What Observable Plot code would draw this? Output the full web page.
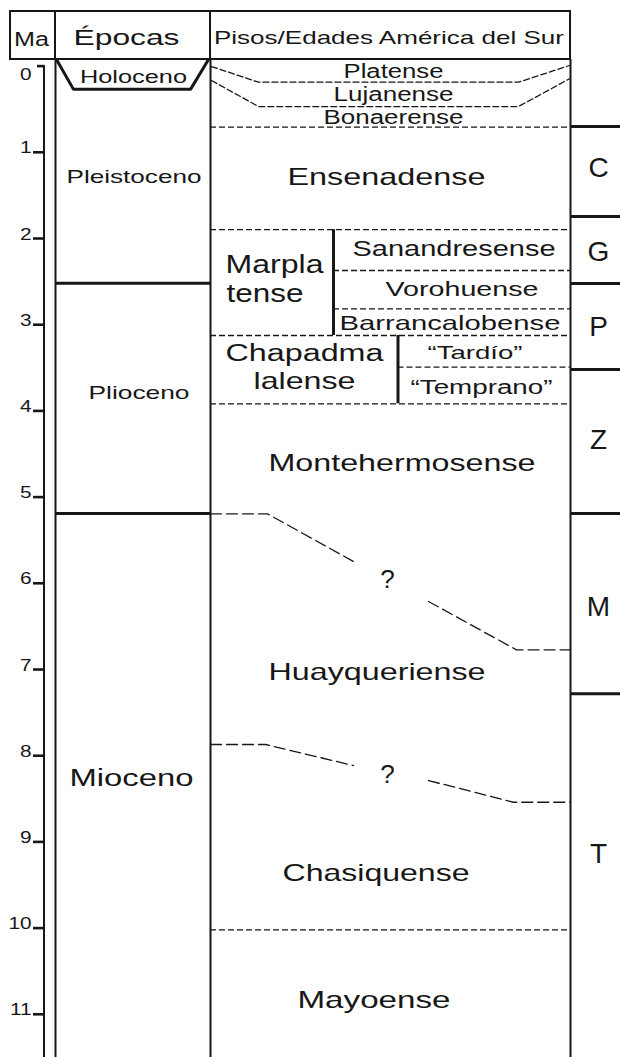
<!DOCTYPE html>
<html><head><meta charset="utf-8">
<script src="https://cdn.jsdelivr.net/npm/d3@7"></script>
<script src="https://cdn.jsdelivr.net/npm/@observablehq/plot@0.6"></script>
<style>
body{margin:0;background:#fff;}
#wrap{position:relative;width:620px;height:1057px;overflow:hidden;font-family:"Liberation Sans",Arial,sans-serif;color:#171717;background:#fff;}
#chart{position:absolute;left:0;top:59px;}
#hdr{position:absolute;left:0;top:0;width:620px;height:60px;z-index:2;}
.ln{position:absolute;background:#171717;}
.hl{position:absolute;text-align:center;white-space:nowrap;}
.hl span{display:inline-block;transform-origin:50% 50%;}
</style></head>
<body><div id="wrap"><div id="chart"></div><div id="hdr"></div></div>
<script>
// ---------------- DATA (ages in Ma) ----------------
const headerLabels = ["Ma", "Épocas", "Pisos/Edades América del Sur"];
const maTicks = [0, 1, 2, 3, 4, 5, 6, 7, 8, 9, 10, 11];

const epochNames = ["Holoceno", "Pleistoceno", "Plioceno", "Mioceno"];
const epochLabelMa = [0.132, 1.292, 3.798, 8.265];
const epochBoundaryMa = [2.52, 5.19];
const holoceneBaseMa = 0.27;

const stageNames = ["Platense", "Lujanense", "Bonaerense", "Ensenadense", "Marpla", "tense",
  "Sanandresense", "Vorohuense", "Barrancalobense", "Chapadma", "lalense", "“Tardío”", "“Temprano”",
  "Montehermosense", "Huayqueriense", "Chasiquense", "Mayoense"];
const stageLabelMa = [0.063, 0.328, 0.596, 1.292, 2.309, 2.643, 2.116, 2.585, 2.980, 3.338, 3.657,
  3.328, 3.729, 4.610, 7.035, 9.365, 10.84];
const stageBoundaryMa = [0.709, 1.897, 3.125, 3.918, 10.02];
const marplaSubBoundaryMa = [2.371, 2.816];
const chapaSubBoundaryMa = [3.493];
const marplaSpanMa = [1.897, 3.125];
const chapaSpanMa = [3.125, 3.918];
const platenseBaseMa = [0.005, 0.187, 0.187, -0.007];
const lujanenseBaseMa = [0.167, 0.469, 0.469, 0.147];
const huayqTopMa = [[5.194, 5.194, 5.747], [6.211, 6.772, 6.772]];
const chasiqTopMa = [[7.870, 7.870, 8.114], [8.288, 8.540, 8.540]];
const uncertainText = ["?", "?"];
const uncertainMa = [5.957, 8.218];

const zoneNames = ["C", "G", "P", "Z", "M", "T"];
const zoneBoundaryMa = [0.701, 1.745, 2.522, 3.520, 5.191, 7.280];
const zoneLabelMa = [1.179, 2.162, 3.032, 4.343, 6.28, 9.135];

// ---------------- LAYOUT ----------------
const INK = "#171717";
const W = 620, H = 998, TOP = 59;
const PX_PER_MA = 86.2, MA0_Y = 65.6;
const yMin = (TOP - MA0_Y) / PX_PER_MA, yMax = (TOP + H - MA0_Y) / PX_PER_MA;
const X = {axis: 43.5, tick0: 37, tick: 33, lab: 31, epL: 55, epR: 210, psR: 570, zR: 620,
  marplaDiv: 333, chapaDiv: 397.5, zoneLab: 598, uncertain: 387};
const holoX = [56, 73, 190, 208];
const platenseX = [211, 258, 518, 569];
const huayqX = [[210, 267, 353], [428, 516, 570]];
const chasiqX = [[210, 265, 353], [428, 513, 570]];
const epochLayout = {Holoceno: {x: 133, w: 107, fs: 18}, Pleistoceno: {x: 133.5, w: 135, fs: 18.5},
  Plioceno: {x: 138.5, w: 101, fs: 18.5}, Mioceno: {x: 131, w: 124, fs: 23}};
const stageLayout = {
  Platense: {x: 393, w: 100, fs: 20}, Lujanense: {x: 393, w: 120, fs: 20}, Bonaerense: {x: 393, w: 140, fs: 20},
  Ensenadense: {x: 386, w: 198, fs: 24},
  Marpla: {x: 225, w: 98, fs: 26, start: true}, tense: {x: 226, w: 77, fs: 26, start: true},
  Sanandresense: {x: 453.5, w: 203, fs: 22}, Vorohuense: {x: 461.5, w: 153, fs: 21},
  Barrancalobense: {x: 449.5, w: 221, fs: 21}, Chapadma: {x: 304, w: 158, fs: 23}, lalense: {x: 304, w: 102, fs: 24},
  "“Tardío”": {x: 474.5, w: 95, fs: 19}, "“Temprano”": {x: 481, w: 142, fs: 19.5},
  Montehermosense: {x: 401.5, w: 267, fs: 24}, Huayqueriense: {x: 376.5, w: 217, fs: 24},
  Chasiquense: {x: 375.5, w: 187, fs: 24}, Mayoense: {x: 373.5, w: 153, fs: 24}
};
const hdrLayout = [{x: 31.5, w: 35, fs: 19.5, y: 38.5}, {x: 127, w: 106, fs: 22.5, y: 37.8}, {x: 388.5, w: 350, fs: 17.7, y: 38}];
const hdrLines = [[9, 10, 562, 2], [9, 58, 562, 2], [9, 10, 2, 50], [54, 10, 2, 50], [209, 10, 2, 50], [569, 10, 2, 50]];

// ---------------- TABLES built from data ----------------
const epochs = epochNames.map((n, i) => ({name: n, ma: epochLabelMa[i], ...epochLayout[n]}));
const stages = stageNames.map((n, i) => ({name: n, ma: stageLabelMa[i], ...stageLayout[n]}));
const holo = holoX.map((x, i) => ({x, y: (i === 0 || i === 3) ? yMin : holoceneBaseMa}));
const poly = [];
platenseBaseMa.forEach((m, i) => poly.push({g: "pla", x: platenseX[i], y: m}));
lujanenseBaseMa.forEach((m, i) => poly.push({g: "luj", x: platenseX[i], y: m}));
const poly2 = [];
huayqTopMa.forEach((seg, s) => seg.forEach((m, i) => poly2.push({g: "h" + s, x: huayqX[s][i], y: m})));
chasiqTopMa.forEach((seg, s) => seg.forEach((m, i) => poly2.push({g: "c" + s, x: chasiqX[s][i], y: m})));
const dividers = [{x: X.marplaDiv, y1: marplaSpanMa[0], y2: marplaSpanMa[1]}, {x: X.chapaDiv, y1: chapaSpanMa[0], y2: chapaSpanMa[1]}];
const zones = zoneNames.map((n, i) => ({name: n, ma: zoneLabelMa[i]}));
const unc = uncertainText.map((t, i) => ({t, ma: uncertainMa[i]}));

const dash = {stroke: INK, strokeWidth: 1.3, strokeDasharray: "6,3"};

const svg = Plot.plot({
  width: W, height: H, margin: 0,
  x: {domain: [0, W], range: [0, W], axis: null},
  y: {domain: [yMin, yMax], range: [0, H], axis: null},
  style: {fontFamily: "'Liberation Sans', Arial, sans-serif", background: "transparent", color: INK, overflow: "visible"},
  marks: [
    Plot.ruleX([X.epL, X.epR, X.psR], {x: d => d, y1: yMin, y2: yMax, stroke: INK, strokeWidth: 2}),
    Plot.ruleX([X.axis], {x: d => d, y1: maTicks[0], y2: yMax, stroke: INK, strokeWidth: 2}),
    Plot.ruleY(maTicks, {y: d => d, x1: d => d === 0 ? X.tick0 : X.tick, x2: X.axis + 1, stroke: INK, strokeWidth: 2.6}),
    Plot.text(maTicks.filter(d => d > 0), {x: X.lab, y: d => d, text: d => String(d), textAnchor: "end", lineAnchor: "bottom", fontSize: 16, dy: 1, fill: INK}),
    Plot.text(maTicks.filter(d => d === 0), {x: X.lab, y: d => d, text: d => String(d), textAnchor: "end", lineAnchor: "top", fontSize: 16, dy: 3, fill: INK}),
    Plot.ruleY(epochBoundaryMa, {y: d => d, x1: X.epL, x2: X.epR, stroke: INK, strokeWidth: 3}),
    Plot.line(holo, {x: "x", y: "y", stroke: INK, strokeWidth: 3, strokeLinejoin: "miter", curve: "linear"}),
    Plot.text(epochs, {x: "x", y: "ma", text: "name", fontSize: d => d.fs, fill: INK}),
    Plot.ruleY(stageBoundaryMa, {y: d => d, x1: X.epR, x2: X.psR, ...dash}),
    Plot.ruleY(marplaSubBoundaryMa, {y: d => d, x1: X.marplaDiv, x2: X.psR, ...dash}),
    Plot.ruleY(chapaSubBoundaryMa, {y: d => d, x1: X.chapaDiv, x2: X.psR, ...dash}),
    Plot.line(poly, {x: "x", y: "y", z: "g", curve: "linear", ...dash}),
    Plot.line(poly2, {x: "x", y: "y", z: "g", curve: "linear", stroke: INK, strokeWidth: 1.3, strokeDasharray: "11,5"}),
    Plot.ruleX(dividers, {x: "x", y1: "y1", y2: "y2", stroke: INK, strokeWidth: 3}),
    Plot.text(stages.filter(d => !d.start), {x: "x", y: "ma", text: "name", fontSize: d => d.fs, fill: INK}),
    Plot.text(stages.filter(d => d.start), {x: "x", y: "ma", text: "name", textAnchor: "start", fontSize: d => d.fs, fill: INK}),
    Plot.text(unc, {x: X.uncertain, y: "ma", text: "t", fontSize: 26, fill: INK}),
    Plot.ruleY(zoneBoundaryMa, {y: d => d, x1: X.psR, x2: X.zR, stroke: INK, strokeWidth: 3}),
    Plot.text(zones, {x: X.zoneLab, y: "ma", text: "name", fontSize: 28, fill: INK})
  ]
});
document.getElementById("chart").append(svg);

// stretched lettering as in the figure: match each label's drawn width
const widthOf = new Map([...epochs, ...stages].map(d => [d.name, d.w]));
d3.select(svg).selectAll("text").each(function () {
  const t = this.textContent;
  let w = null;
  if (widthOf.has(t)) w = widthOf.get(t);
  else if (/^\d+$/.test(t)) w = this.getComputedTextLength() * 1.3;
  if (w) {
    this.setAttribute("textLength", w);
    this.setAttribute("lengthAdjust", "spacingAndGlyphs");
  }
});

// header
const hdr = document.getElementById("hdr");
hdrLines.forEach(([l, t, w, h]) => {
  const d = document.createElement("div"); d.className = "ln";
  Object.assign(d.style, {left: l + "px", top: t + "px", width: w + "px", height: h + "px"});
  hdr.append(d);
});
headerLabels.forEach((t, i) => {
  const L = hdrLayout[i];
  const div = document.createElement("div"); div.className = "hl";
  Object.assign(div.style, {left: (L.x - 250) + "px", width: "500px", top: (L.y - 20) + "px", height: "40px", lineHeight: "40px", fontSize: L.fs + "px"});
  const span = document.createElement("span"); span.textContent = t;
  div.append(span); hdr.append(div);
  const nat = span.getBoundingClientRect().width;
  span.style.transform = `scaleX(${L.w / nat})`;
});
</script></body></html>
